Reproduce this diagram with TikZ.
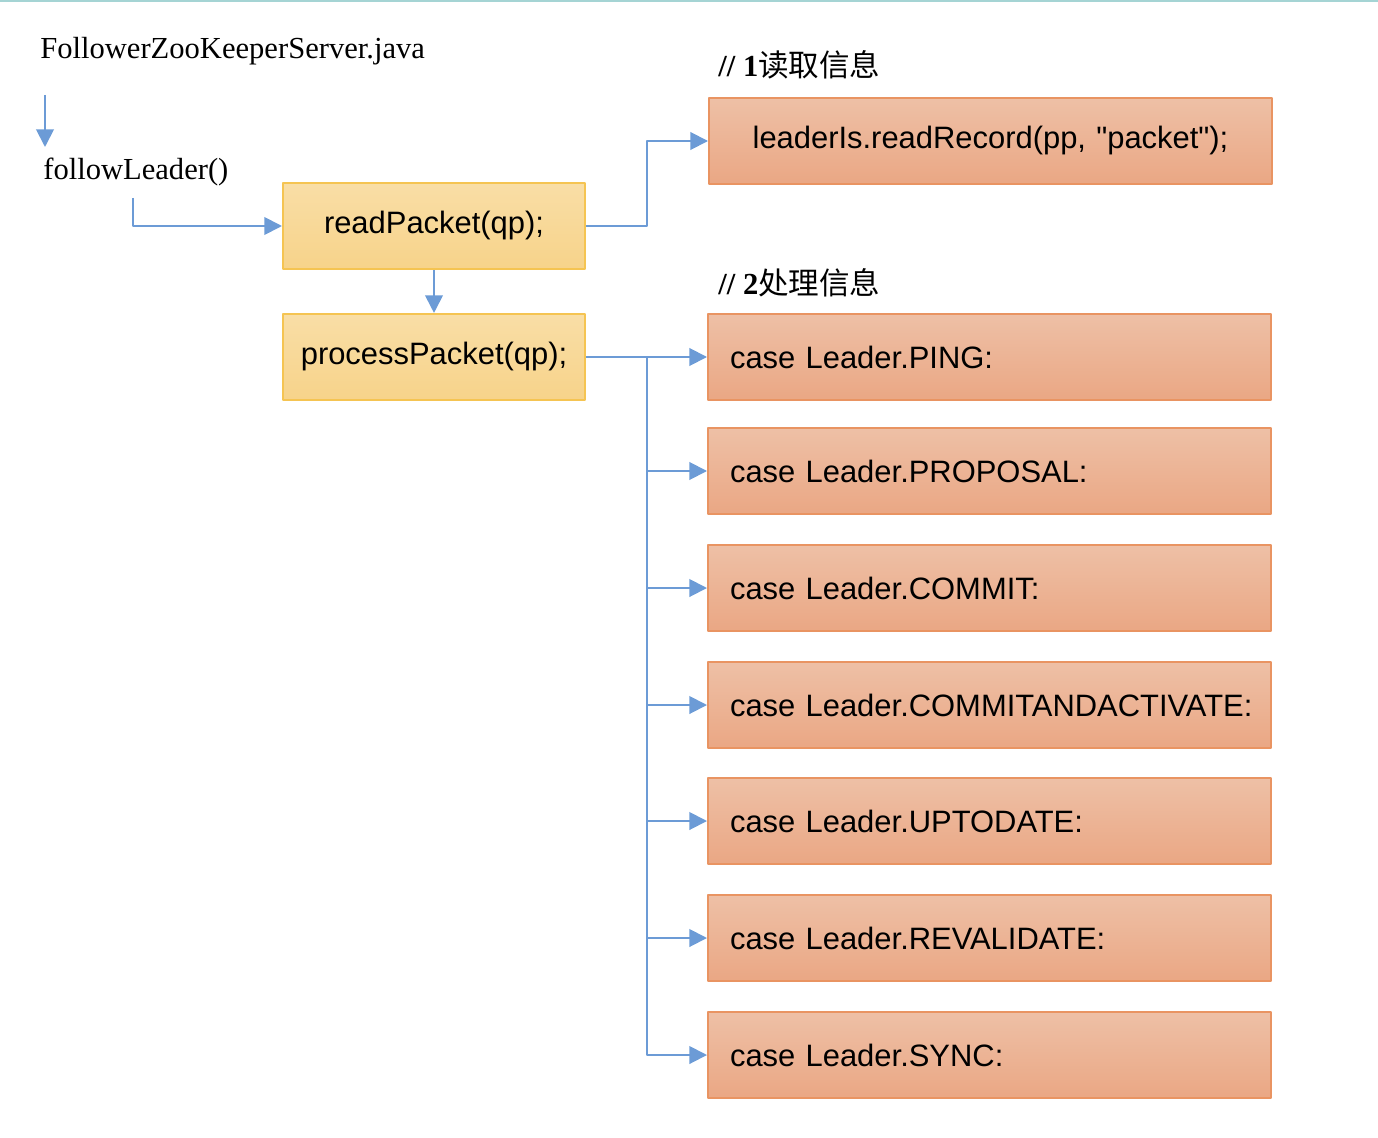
\documentclass[tikz,border=0pt]{standalone}
\usepackage{fontspec}
\setmainfont{Liberation Serif}
\setsansfont{Liberation Sans}
\newfontfamily\cjk{Noto Sans CJK SC}
\usetikzlibrary{arrows.meta}
\definecolor{arr}{RGB}{108,155,214}
\definecolor{ytop}{RGB}{249,222,166}
\definecolor{ybot}{RGB}{247,211,138}
\definecolor{yline}{RGB}{245,196,82}
\definecolor{otop}{RGB}{238,192,166}
\definecolor{obot}{RGB}{234,167,132}
\definecolor{oline}{RGB}{233,148,98}
\definecolor{topline}{RGB}{165,212,212}
\tikzset{
	callbox/.style={draw=yline, line width=1.2pt, top color=ytop, bottom color=ybot, minimum width=6.04cm, minimum height=1.72cm, inner sep=0pt, font=\sffamily\fontsize{17.6}{20}\selectfont},
	casebox/.style={draw=oline, line width=1.2pt, top color=otop, bottom color=obot, text width=10.38cm, inner xsep=0.44cm, minimum height=1.72cm, align=left, font=\sffamily\fontsize{17.6}{20}\selectfont},
	note/.style={inner sep=0pt, anchor=west, font=\fontsize{17.4}{20}\selectfont},
}
\begin{document}
\begin{tikzpicture}[x=0.02cm, y=-0.02cm, line join=round, >={Triangle[length=10pt,width=10pt]}]
			\useasboundingbox (0,0) rectangle (1378,1138);
			\fill[topline] (0,0) rectangle (1378,2);
			% left column
			\node[note] (fzs) at (40,51) {FollowerZooKeeperServer.java};
			\node[note] (fl) at (43,172) {followLeader()};
			\coordinate (s0) at (45,95); \coordinate (s1) at (45,147); \coordinate (s2) at (133,198);
			\node[callbox] (rp) at (434,226) {readPacket(qp);};
			\node[callbox] (pp) at (434,357) {processPacket(qp);};
			% right column
			\node[note] (n1) at (718,65) {\bfseries // 1{\cjk\mdseries 读取信息}};
			\node[note] (n2) at (718,283) {\bfseries // 2{\cjk\mdseries 处理信息}};
			\node[casebox, align=center] (li) at (990.5,141) {leaderIs.readRecord(pp, \textquotedbl packet\textquotedbl);};
			\foreach \i/\y/\t in {1/357/PING,2/471/PROPOSAL,3/588/COMMIT,4/705/COMMITANDACTIVATE,5/821/UPTODATE,6/938/REVALIDATE,7/1055/SYNC}
				\node[casebox] (c\i) at (989.5,\y) {\mbox{case Leader.\t:}};
			% connectors
			\begin{scope}[draw=arr, line width=1.1pt]
				\draw[->] (s0)--(s1);
				\draw[->] (s2) |- (rp.west);
				\draw[->] (rp.south)--(pp.north);
				\draw[->] (rp.east)--++(61,0) |- (li.west);
				\coordinate (tr) at (647,357);
				\draw (pp.east)--(tr);
				\foreach \i in {1,...,7} \draw[->] (tr) |- (c\i.west);
			\end{scope}
		\end{tikzpicture}
\end{document}
